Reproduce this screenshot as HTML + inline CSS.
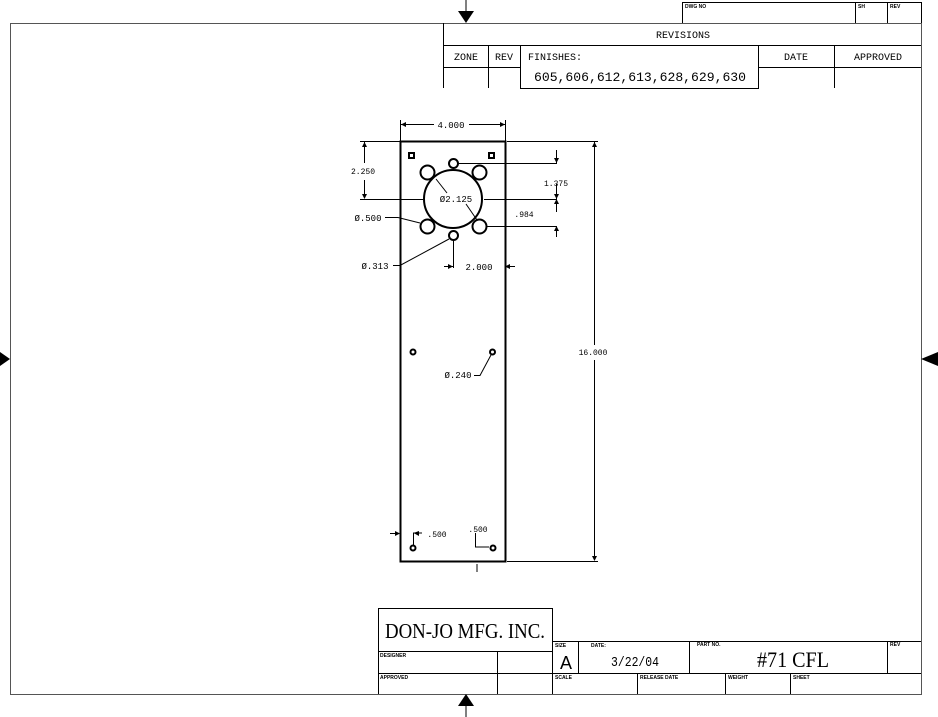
<!DOCTYPE html>
<html><head><meta charset="utf-8"><style>
html,body{margin:0;padding:0;background:#fff;}
svg{display:block;}
.m{font-family:"Liberation Mono",monospace;}
.s{font-family:"Liberation Sans",sans-serif;}
.r{font-family:"Liberation Serif",serif;}
</style></head><body>
<svg width="938" height="717" viewBox="0 0 938 717" xmlns="http://www.w3.org/2000/svg">
<g stroke="#000" fill="none" stroke-width="1">
<path d="M10.5 23.5 H921.5 V694.5 H10.5 Z" stroke="#555"/>
<line x1="466" y1="0" x2="466" y2="12"/>
<line x1="466" y1="705" x2="466" y2="717"/>
</g>
<polygon points="458,11 474,11 466,23" fill="#000"/>
<polygon points="458,706 474,706 466,694" fill="#000"/>
<polygon points="0,352 0,366 10,359" fill="#000"/>
<polygon points="938,352 938,366 921,359" fill="#000"/>

<g stroke="#000" fill="none" stroke-width="1">
<path d="M682.5 23 V2.5 H921.5 V23 M855.5 2.5 V23 M887.5 2.5 V23"/>
<path d="M443.5 23 V88 M443.5 45.5 H921 M443.5 67.5 H520 M758 67.5 H921 M488.5 45.5 V88 M834.5 45.5 V88"/>
<rect x="520.5" y="45.5" width="238" height="43"/>

<rect x="400.5" y="141.5" width="105" height="420" stroke-width="2"/>
<path d="M400.5 120 V141 M505.5 120 V141 M401 124.5 H434 M469 124.5 H505"/>
<path d="M507 141.5 H598 M507 561.5 H598 M594.5 142 V345 M594.5 360 V560"/>
<path d="M360 141.5 H400 M364.5 142 V163 M364.5 180 V198 M360 199.5 H423"/>
<path d="M458 163.5 H557 M484 199.5 H557 M486 226.5 H557 M556.5 150 V163 M556.5 199 V212 M556.5 226 V237 M556.5 184 V199"/>
<path d="M453.5 240 V268 M444 266.5 H453 M505 266.5 H515"/>
<circle cx="453" cy="199" r="29" stroke-width="2"/>
<circle cx="453.5" cy="163.5" r="4.5" stroke-width="2" fill="#fff"/>
<circle cx="453.5" cy="235.5" r="4.5" stroke-width="2" fill="#fff"/>
<circle cx="427.5" cy="172.5" r="7" stroke-width="2"/>
<circle cx="479.5" cy="172.5" r="7" stroke-width="2"/>
<circle cx="427.5" cy="226.5" r="7" stroke-width="2"/>
<circle cx="479.5" cy="226.5" r="7" stroke-width="2"/>
<rect x="409" y="153" width="5" height="5" stroke-width="2"/>
<rect x="489" y="153" width="5" height="5" stroke-width="2"/>
<circle cx="413" cy="352" r="2.5" stroke-width="2"/>
<circle cx="492.5" cy="352" r="2.5" stroke-width="2"/>
<circle cx="413" cy="548" r="2.5" stroke-width="2"/>
<circle cx="493" cy="548" r="2.5" stroke-width="2"/>
<path d="M385 217.5 H398 L420 223"/>
<path d="M393 265.5 H400 L449 239"/>
<path d="M474 375.5 H480 L491 355"/>
<path d="M436 179 L447 193 M466 204 L477 220"/>
<path d="M390 533.5 H399 M413.5 545 V533 H422 M475.5 533 V547 H489 M477 564 V572"/>
<rect x="378.5" y="608.5" width="174" height="43"/>
<path d="M552 641.5 H921 M378.5 651 V694 M378.5 673.5 H921 M497.5 651.5 V694 M378 651.5 H552 M552.5 641 V694 M578.5 641 V673 M689.5 641 V673 M887.5 641 V673 M637.5 673 V694 M725.5 673 V694 M790.5 673 V694"/>
</g>
<g stroke="none" fill="#000">
<polygon points="401,124.5 406,122 406,127"/>
<polygon points="505,124.5 500,122 500,127"/>
<polygon points="594.5,142 592,147 597,147"/>
<polygon points="594.5,561 592,556 597,556"/>
<polygon points="364.5,142 362,147 367,147"/>
<polygon points="364.5,199 362,194 367,194"/>
<polygon points="556.5,163 554,158 559,158"/>
<polygon points="556.5,199 554,204 559,204"/>
<polygon points="556.5,199 554,194 559,194"/>
<polygon points="556.5,226 554,231 559,231"/>
<polygon points="453,266.5 448,264 448,269"/>
<polygon points="505,266.5 510,264 510,269"/>
<polygon points="400,533.5 395,531 395,536"/>
<polygon points="413.5,533 419,531 419,536"/>
</g>
<g class="m" font-size="9" fill="#000">
<text x="451" y="128" text-anchor="middle">4.000</text>
<text x="593" y="355" text-anchor="middle" font-size="8">16.000</text>
<text x="363" y="174" text-anchor="middle" font-size="8">2.250</text>
<text x="556" y="186" text-anchor="middle" font-size="8">1.375</text>
<text x="524" y="217" text-anchor="middle" font-size="8">.984</text>
<text x="456" y="202" text-anchor="middle">Ø2.125</text>
<text x="368" y="221" text-anchor="middle">Ø.500</text>
<text x="375" y="269" text-anchor="middle">Ø.313</text>
<text x="479" y="270" text-anchor="middle">2.000</text>
<text x="458" y="378" text-anchor="middle">Ø.240</text>
<text x="437" y="537" text-anchor="middle" font-size="8">.500</text>
<text x="478" y="532" text-anchor="middle" font-size="8">.500</text>

<text x="683" y="38" text-anchor="middle" font-size="10">REVISIONS</text>
<text x="466" y="60" text-anchor="middle" font-size="10">ZONE</text>
<text x="504" y="60" text-anchor="middle" font-size="10">REV</text>
<text x="528" y="60" font-size="10">FINISHES:</text>
<text x="796" y="60" text-anchor="middle" font-size="10">DATE</text>
<text x="878" y="60" text-anchor="middle" font-size="10">APPROVED</text>
<text x="534" y="81" font-size="13" textLength="212" lengthAdjust="spacingAndGlyphs">605,606,612,613,628,629,630</text>
<text x="566" y="669" text-anchor="middle" font-size="18" class="s">A</text>
<text x="611" y="666" font-size="14" textLength="48" lengthAdjust="spacingAndGlyphs">3/22/04</text>
</g>
<g class="s" font-size="5" font-weight="bold" fill="#000">
<text x="685" y="8">DWG NO</text><text x="858" y="8">SH</text><text x="890" y="8">REV</text>
<text x="380" y="657">DESIGNER</text><text x="380" y="679">APPROVED</text>
<text x="555" y="647">SIZE</text><text x="591" y="647">DATE:</text>
<text x="697" y="646">PART NO.</text><text x="890" y="646">REV</text>
<text x="555" y="679">SCALE</text><text x="640" y="679">RELEASE DATE</text>
<text x="728" y="679">WEIGHT</text><text x="793" y="679">SHEET</text>
</g>
<text x="385" y="638" class="r" font-size="21" textLength="160" lengthAdjust="spacingAndGlyphs" fill="#000">DON-JO MFG. INC.</text>
<text x="757" y="667" class="r" font-size="22" textLength="72" lengthAdjust="spacingAndGlyphs" fill="#000">#71 CFL</text>
</svg>
</body></html>
